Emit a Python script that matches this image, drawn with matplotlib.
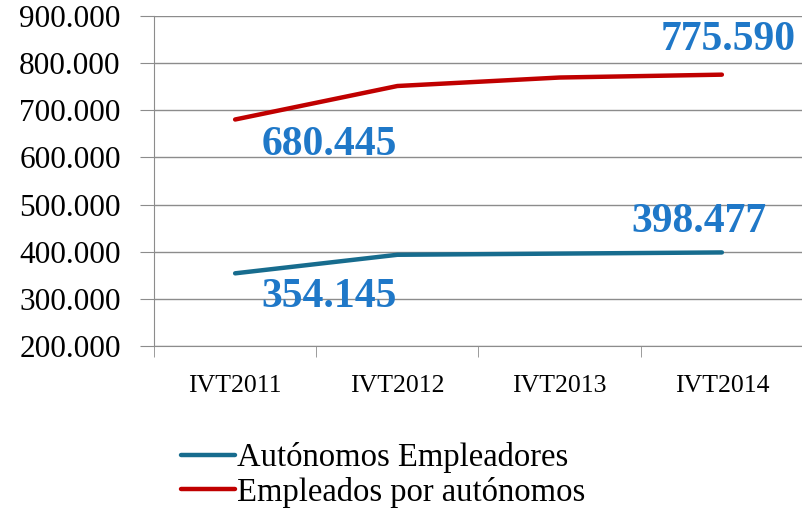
import matplotlib
matplotlib.use("Agg")
import matplotlib.pyplot as plt
from matplotlib.ticker import FuncFormatter

categories = ["IVT2011", "IVT2012", "IVT2013", "IVT2014"]
autonomos_empleadores = [354145, 393500, 396000, 398477]
empleados_por_autonomos = [680445, 751500, 769500, 775590]
series_names = ["Autónomos Empleadores", "Empleados por autónomos"]
y_ticks = [200000, 300000, 400000, 500000, 600000, 700000, 800000, 900000]

blue_line = "#176C8E"
red_line = "#C00000"
label_col = "#1F78C8"
grid_col = "#8C8C8C"
serif = ["Liberation Serif", "DejaVu Serif"]

fig = plt.figure(figsize=(8.03, 5.09), dpi=100)
ax = fig.add_axes([154/803, 1-346/509, 649/803, 330/509])

x = list(range(len(categories)))
l1, = ax.plot(x, autonomos_empleadores, color=blue_line, lw=3.2, solid_capstyle="round")
l2, = ax.plot(x, empleados_por_autonomos, color=red_line, lw=3.2, solid_capstyle="round")

ax.set_xlim(-0.5, 3.5)
ax.set_ylim(200000, 900000)
ax.set_yticks(y_ticks)
ax.yaxis.set_major_formatter(FuncFormatter(lambda v, p: f"{int(v):,}".replace(",", ".")))
ax.grid(axis="y", color=grid_col, lw=1)
ax.set_axisbelow(True)

for s in ["top", "right"]:
    ax.spines[s].set_visible(False)
ax.spines["left"].set_color(grid_col)
ax.spines["bottom"].set_color(grid_col)

ax.set_xticks(x)
ax.set_xticklabels(categories, fontfamily=serif, fontsize=18.5)
ax.set_xticks([-0.5, 0.5, 1.5, 2.5], minor=True)
ax.tick_params(axis="x", which="major", length=0, pad=21)
ax.tick_params(axis="x", which="minor", length=8, color=grid_col)
ax.tick_params(axis="y", length=10, color=grid_col, pad=14)
for t in ax.get_yticklabels():
    t.set_fontfamily(serif)
    t.set_fontsize(22.5)

def fmt(v):
    return f"{v:,}".replace(",", ".")

lab_kw = dict(color=label_col, fontsize=30, fontweight="bold", fontfamily=serif,
              ha="center", va="center")
ax.text(0.58, 626000, fmt(empleados_por_autonomos[0]), **lab_kw)
ax.text(3.04, 849000, fmt(empleados_por_autonomos[3]), **lab_kw)
ax.text(0.58, 304000, fmt(autonomos_empleadores[0]), **lab_kw)
ax.text(2.86, 463000, fmt(autonomos_empleadores[3]), **lab_kw)

fig.legend([l1, l2], series_names, loc="upper left", bbox_to_anchor=(181/803, 1-442/509),
           frameon=False, prop={"family": serif, "size": 23.5}, handlelength=1.65,
           handletextpad=0.08, labelspacing=0.12, borderpad=0, borderaxespad=0)

fig.savefig("out.png", dpi=100)
